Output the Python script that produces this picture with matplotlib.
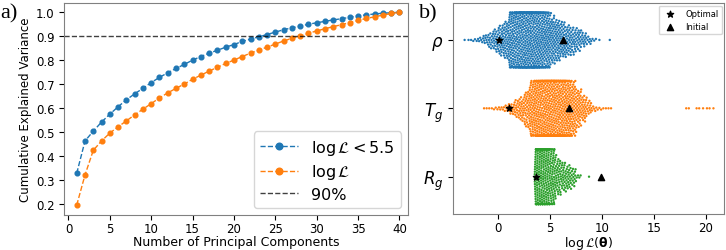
import matplotlib
matplotlib.use("Agg")
import matplotlib.pyplot as plt
import seaborn as sns
import numpy as np
import pandas as pd

# ---- panel a) cumulative explained variance ----
n_components = np.arange(1, 41)
cum_var_cut = [0.327, 0.462, 0.503, 0.541, 0.574, 0.605, 0.634, 0.659, 0.682, 0.706,
               0.728, 0.747, 0.765, 0.782, 0.800, 0.815, 0.829, 0.841, 0.854, 0.865,
               0.878, 0.888, 0.897, 0.907, 0.917, 0.927, 0.935, 0.942, 0.950, 0.956,
               0.962, 0.968, 0.973, 0.979, 0.985, 0.989, 0.993, 0.996, 0.998, 1.000]
cum_var_all = [0.194, 0.320, 0.423, 0.462, 0.495, 0.521, 0.546, 0.571, 0.595, 0.618,
               0.642, 0.663, 0.682, 0.700, 0.720, 0.737, 0.754, 0.770, 0.786, 0.800,
               0.815, 0.829, 0.842, 0.854, 0.867, 0.880, 0.891, 0.901, 0.912, 0.922,
               0.931, 0.940, 0.948, 0.957, 0.966, 0.974, 0.981, 0.988, 0.995, 1.000]

# ---- panel b) log-likelihood swarm, histogram (bin width 0.5) ----
params = [r'$\rho$', r'$T_g$', r'$R_g$']
BIN_W = 0.5
rho_centers = [-3.25, -2.75, -2.25, -1.75, -1.25, -0.75, -0.25, 0.25, 0.75, 1.25, 1.75,
               2.25, 2.75, 3.25, 3.75, 4.25, 4.75, 5.25, 5.75, 6.25, 6.75, 7.25, 7.75,
               8.25, 8.75, 9.25, 9.75, 10.75]
rho_counts = [1, 2, 3, 5, 9, 14, 20, 28, 34, 60, 70, 80, 80, 80, 75, 70, 60, 44, 38, 32,
              27, 23, 19, 13, 7, 3, 1, 1]
tg_centers = [-1.25, -0.75, -0.25, 0.25, 0.75, 1.25, 1.75, 2.25, 2.75, 3.25, 3.75, 4.25,
              4.75, 5.25, 5.75, 6.25, 6.75, 7.25, 7.75, 8.25, 8.75, 9.25, 9.75, 10.25,
              10.75, 18.25, 19.25, 19.75, 20.25, 20.75]
tg_counts = [2, 2, 3, 4, 6, 10, 16, 22, 32, 55, 70, 80, 85, 85, 80, 75, 65, 50, 34, 24,
             13, 5, 3, 2, 2, 2, 2, 1, 2, 1]
rg_centers = [3.75, 4.25, 4.75, 5.25, 5.75, 6.25, 6.75, 7.25, 7.75, 8.75]
rg_counts = [90, 85, 75, 58, 33, 26, 22, 16, 4, 1]

optimal = [0.05, 1.06, 3.66]
initial = [6.2, 6.8, 9.87]


def expand(centers, counts):
    vals = []
    for c, n in zip(centers, counts):
        step = BIN_W / n
        vals.extend(c - BIN_W / 2 + step * (np.arange(n) + 0.5))
    return vals


rows = []
for name, (cs, ns) in zip(params, [(rho_centers, rho_counts), (tg_centers, tg_counts),
                                   (rg_centers, rg_counts)]):
    for v in expand(cs, ns):
        rows.append((name, v))
df = pd.DataFrame(rows, columns=['param', 'logL'])

fig = plt.figure(figsize=(7.26, 2.51), dpi=100)
ax1 = fig.add_axes([0.0886, 0.1406, 0.473, 0.845])
ax2 = fig.add_axes([0.6244, 0.145, 0.3733, 0.839])

ax1.plot(n_components, cum_var_cut, '--o', color='tab:blue', ms=3.4, lw=1,
         label=r'$\log\mathcal{L} < 5.5$')
ax1.plot(n_components, cum_var_all, '--o', color='tab:orange', ms=3.4, lw=1,
         label=r'$\log\mathcal{L}$')
ax1.axhline(0.9, color='k', ls='--', lw=1, alpha=0.75, label='90%')
ax1.set_xlim(-0.5, 41)
ax1.set_xticks(np.arange(0, 41, 5))
ax1.set_yticks(np.arange(0.2, 1.01, 0.1))
ax1.tick_params(labelsize=8.5)
ax1.tick_params(axis='x', pad=2)
ax1.set_xlabel('Number of Principal Components', fontsize=9, labelpad=0)
ax1.set_ylabel('Cumulative Explained Variance', fontsize=8.5, labelpad=3)
ax1.legend(loc='lower right', fontsize=11.5, markerscale=1.4, handlelength=2.4,
           borderaxespad=0.4, labelspacing=0.35)

sns.swarmplot(data=df, x='logL', y='param', hue='param', order=params,
              palette=['tab:blue', 'tab:orange', 'tab:green'], size=1.7, linewidth=0,
              legend=False, orient='h', ax=ax2, warn_thresh=1)
ax2.scatter(optimal, [0, 1, 2], marker='*', color='k', s=22, zorder=5, label='Optimal')
ax2.scatter(initial, [0, 1, 2], marker='^', color='k', s=20, zorder=5, label='Initial')
ax2.set_xlim(-4.34, 21.8)
ax2.set_xticks([0, 5, 10, 15, 20])
ax2.tick_params(axis='x', labelsize=8.5, pad=2)
ax2.tick_params(axis='y', labelsize=12)
ax2.set_ylabel('')
ax2.set_xlabel(r'$\log\mathcal{L}(\mathbf{\theta})$', fontsize=9, labelpad=0)
ax2.legend(loc='upper right', fontsize=6, borderaxespad=0.3, handletextpad=0.8)

for ax in (ax1, ax2):
    for s in ax.spines.values():
        s.set_color('0.5')

fig.text(0.0, 0.985, 'a)', fontsize=16, family='Liberation Serif', va='top')
fig.text(0.577, 0.985, 'b)', fontsize=16, family='Liberation Serif', va='top')

fig.savefig('out.png', dpi=100)
